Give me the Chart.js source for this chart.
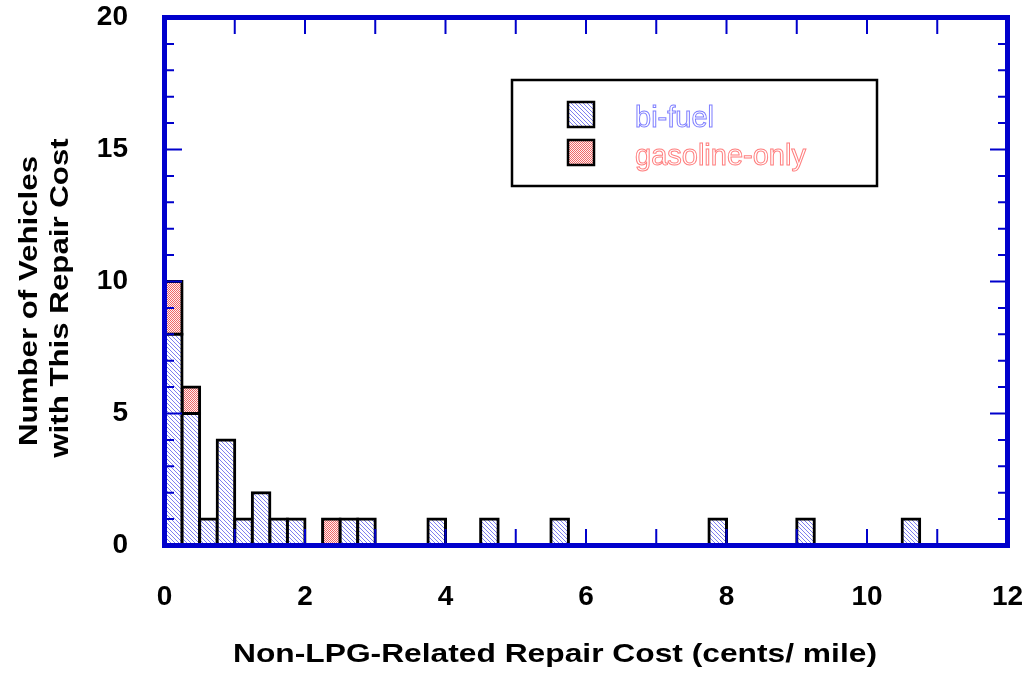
<!DOCTYPE html>
<html>
<head>
<meta charset="utf-8">
<script src="https://cdn.jsdelivr.net/npm/chart.js@4/dist/chart.umd.min.js"></script>
<style>
  html, body { margin: 0; padding: 0; background: #ffffff; }
  #wrap { width: 1026px; height: 675px; }
</style>
</head>
<body>
<div id="wrap"><canvas id="repairChart" width="1026" height="675"></canvas></div>
<script>
// Histogram bins (cents/mile), bin width 0.25, stored as bin centres
const binCenters = [0.125, 0.375, 0.625, 0.875, 1.125, 1.375, 1.625, 1.875,
                    2.375, 2.625, 2.875, 3.875, 4.625, 5.625, 7.875, 9.125, 10.625];
const biFuel       = [8, 5, 1, 4, 1, 2, 1, 1, 0, 1, 1, 1, 1, 1, 1, 1, 1];
const gasolineOnly = [2, 1, 0, 0, 0, 0, 0, 0, 1, 0, 0, 0, 0, 0, 0, 0, 0];
const seriesNames  = ['bi-fuel', 'gasoline-only'];
const xTickValues  = [0, 2, 4, 6, 8, 10, 12];
const yTickValues  = [0, 5, 10, 15, 20];

const AXIS_BLUE = '#0000cc';
const FONT = '"Liberation Sans", Arial, sans-serif';
const ctx = document.getElementById('repairChart').getContext('2d');

// hatch fills
function makePattern(draw, size) {
    const c = document.createElement('canvas');
    c.width = size; c.height = size;
    draw(c.getContext('2d'), size);
    return ctx.createPattern(c, 'repeat');
}
const blueHatch = makePattern(function(g, s) {
    g.fillStyle = '#ffffff';
    g.fillRect(0, 0, s, s);
    g.fillStyle = '#7f7ff0';
    for (let i = 0; i < s; i++) g.fillRect(i, i, 1, 1);
}, 4);
const redHatch = makePattern(function(g, s) {
    g.fillStyle = '#fff0f0';
    g.fillRect(0, 0, s, s);
    g.fillStyle = '#ee6666';
    g.fillRect(0, 0, 1, 1);
    g.fillRect(1, 1, 1, 1);
}, 2);

function toPoints(values) {
    return binCenters.map((x, i) => ({ x: x, y: values[i] === 0 ? null : values[i] }));
}

// text drawn a little wider than the font, like the original
function wideText(c, text, x, y, angle, stretch) {
    c.save();
    c.translate(x, y);
    c.rotate(angle);
    c.scale(stretch, 1);
    c.fillText(text, 0, 0);
    c.restore();
}

// frame, inward ticks, axis titles, legend
const decorations = {
    id: 'decorations',
    afterDatasetsDraw(chart) {
        const c = chart.ctx;
        const a = chart.chartArea;
        const xs = chart.scales.x, ys = chart.scales.y;
        c.save();
        c.strokeStyle = AXIS_BLUE;
        c.lineWidth = 2;
        c.beginPath();
        for (let v = xs.min + 1; v < xs.max; v++) {
            const px = xs.getPixelForValue(v);
            c.moveTo(px, a.bottom); c.lineTo(px, a.bottom - 16.5);
            c.moveTo(px, a.top);    c.lineTo(px, a.top + 16.5);
        }
        for (let v = ys.min + 1; v < ys.max; v++) {
            const py = ys.getPixelForValue(v);
            const len = v % 5 === 0 ? 17.5 : 9.5;
            c.moveTo(a.left, py);  c.lineTo(a.left + len, py);
            c.moveTo(a.right, py); c.lineTo(a.right - len, py);
        }
        c.stroke();
        c.lineWidth = 5;
        c.strokeRect(a.left, a.top, a.right - a.left, a.bottom - a.top);
        c.restore();
    },
    afterDraw(chart) {
        const c = chart.ctx;
        c.save();
        // axis titles
        c.fillStyle = '#000000';
        c.font = 'bold 25px ' + FONT;
        c.textAlign = 'center';
        c.textBaseline = 'alphabetic';
        wideText(c, 'Non-LPG-Related Repair Cost (cents/ mile)', 555, 662, 0, 1.27);
        wideText(c, 'Number of Vehicles', 37, 301, -Math.PI / 2, 1.25);
        wideText(c, 'with This Repair Cost', 68, 298, -Math.PI / 2, 1.25);

        // legend box
        c.strokeStyle = '#000000';
        c.lineWidth = 2.5;
        c.strokeRect(512, 80, 365, 106);
        const rows = [127, 165];
        const outline = ['#7f7fff', '#ff7f7f'];
        chart.data.datasets.forEach(function(ds, i) {
            const top = rows[i] - 25;
            c.fillStyle = ds.backgroundColor;
            c.fillRect(568, top, 26, 25);
            c.lineWidth = 2.5;
            c.strokeStyle = '#000000';
            c.strokeRect(568, top, 26, 25);
            c.font = '29px ' + FONT;
            c.textAlign = 'left';
            c.lineWidth = 1;
            c.strokeStyle = outline[i];
            c.strokeText(ds.label, 635, rows[i]);
        });
        c.restore();
    }
};

new Chart(ctx, {
    type: 'bar',
    data: {
        datasets: [
            {
                label: seriesNames[0],
                data: toPoints(biFuel),
                backgroundColor: blueHatch,
                borderColor: '#000000',
                borderWidth: 3,
                inflateAmount: 1.5,
                borderSkipped: false
            },
            {
                label: seriesNames[1],
                data: toPoints(gasolineOnly),
                backgroundColor: redHatch,
                borderColor: '#000000',
                borderWidth: 3,
                inflateAmount: 1.5,
                borderSkipped: false
            }
        ]
    },
    options: {
        responsive: false,
        animation: false,
        devicePixelRatio: 1,
        barPercentage: 1,
        categoryPercentage: 1,
        layout: { padding: { left: 0, top: 17.5, right: 18.5, bottom: 0 } },
        plugins: {
            legend: { display: false },
            tooltip: { enabled: false }
        },
        scales: {
            x: {
                type: 'linear',
                stacked: true,
                offset: false,
                min: 0,
                max: 12,
                afterBuildTicks: function(scale) {
                    scale.ticks = xTickValues.map(v => ({ value: v }));
                },
                afterFit: function(scale) {
                    scale.height = 129.5;
                    scale.paddingLeft = 0;
                    scale.paddingRight = 0;
                },
                grid: { display: false, drawTicks: false },
                border: { display: false },
                ticks: {
                    padding: 34.5,
                    maxRotation: 0,
                    color: '#000000',
                    font: { family: FONT, size: 28, weight: 'bold' }
                }
            },
            y: {
                type: 'linear',
                stacked: true,
                min: 0,
                max: 20,
                afterBuildTicks: function(scale) {
                    scale.ticks = yTickValues.map(v => ({ value: v }));
                },
                afterFit: function(scale) {
                    scale.width = 164.5;
                    scale.paddingTop = 0;
                    scale.paddingBottom = 0;
                },
                grid: { display: false, drawTicks: false },
                border: { display: false },
                ticks: {
                    padding: 36.5,
                    color: '#000000',
                    font: { family: FONT, size: 28, weight: 'bold' }
                }
            }
        }
    },
    plugins: [decorations]
});
</script>
</body>
</html>
